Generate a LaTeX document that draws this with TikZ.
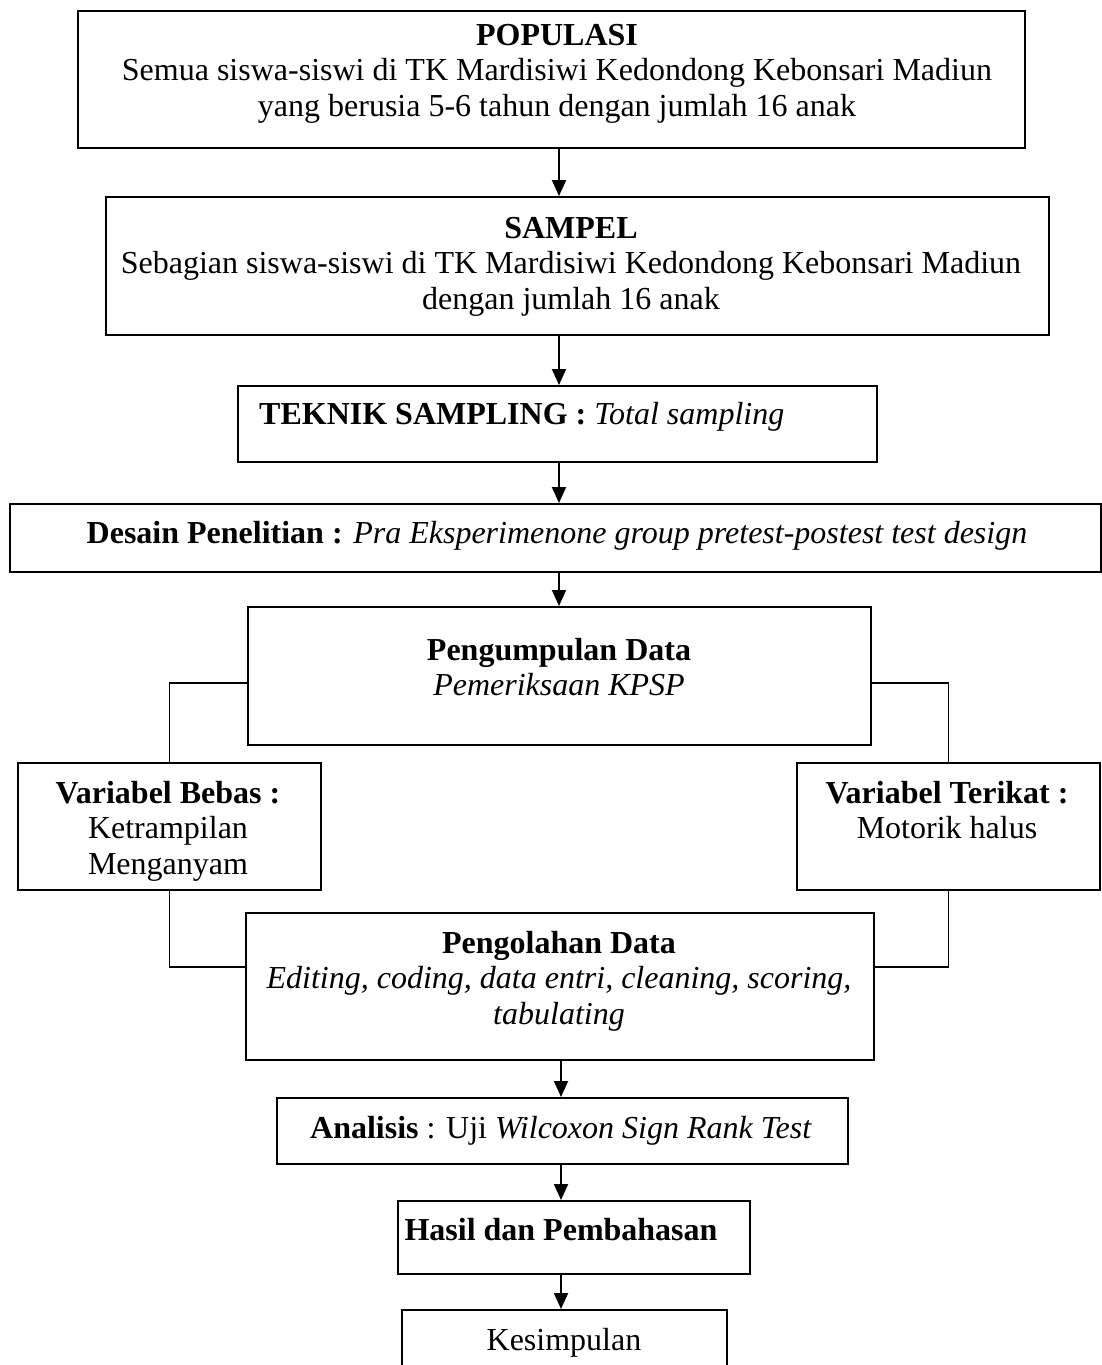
\documentclass[tikz,border=0pt]{standalone}
\usepackage{fontspec}
\setmainfont{Liberation Serif}
\usetikzlibrary{arrows.meta,calc}
\tikzset{
  box/.style={draw, line width=1.9pt, inner sep=0pt, anchor=north west, fill=white},
  txt/.style={anchor=north, inner sep=0pt, align=center, yshift=24.85pt,
              font=\fontsize{32}{35.5}\selectfont},
  conn/.style={line width=1.9pt},
  arr/.style={line width=1.9pt, -{Triangle[length=16pt,width=14pt]}}
}
\begin{document}
\begin{tikzpicture}[x=1pt,y=1pt]
\useasboundingbox (0,0) rectangle (1102,-1365);
\fill[white] (0,0) rectangle (1102,-1365);
\begin{scope}
\clip (0,0) rectangle (1102,-1365);
% boxes
\node[box, minimum width=947pt, minimum height=137pt] (pop) at (77,-10) {};
\node[box, minimum width=943pt, minimum height=138pt] (sam) at (105,-196) {};
\node[box, minimum width=639pt, minimum height=76pt] (tek) at (237,-385) {};
\node[box, minimum width=1091pt, minimum height=68pt] (des) at (9,-503) {};
\node[box, minimum width=623pt, minimum height=138pt] (pk) at (247,-606) {};
\node[box, minimum width=303pt, minimum height=127pt] (beb) at (17,-762) {};
\node[box, minimum width=303pt, minimum height=127pt] (ter) at (796,-762) {};
\node[box, minimum width=628pt, minimum height=147pt] (po) at (245,-912) {};
\node[box, minimum width=571pt, minimum height=66pt] (an) at (276,-1097) {};
\node[box, minimum width=352pt, minimum height=73pt] (ha) at (397,-1200) {};
\node[box, minimum width=325pt, minimum height=100pt] (ke) at (401,-1309) {};
% texts
\node[txt] (tpop) at (557,-45) {\strut\textbf{POPULASI}\\\strut Semua siswa-siswi di TK Mardisiwi Kedondong Kebonsari Madiun\\\strut yang berusia 5-6 tahun dengan jumlah 16 anak};
\node[txt] (tsam) at (571,-238) {\strut\textbf{SAMPEL}\\\strut Sebagian siswa-siswi di TK Mardisiwi Kedondong Kebonsari Madiun\\\strut dengan jumlah 16 anak};
\node[txt, anchor=north west] (ttek) at (259,-424) {\strut\textbf{TEKNIK SAMPLING :} \textit{Total sampling}};
\node[txt] (tdes) at (557,-543) {\strut\textbf{Desain Penelitian :} \textit{Pra Eksperimenone group pretest-postest test design}};
\node[txt] (tpk) at (559,-660) {\strut\textbf{Pengumpulan Data}\\\strut\textit{Pemeriksaan KPSP}};
\node[txt] (tbeb) at (168,-803) {\strut\textbf{Variabel Bebas :}\\\strut Ketrampilan\\\strut Menganyam};
\node[txt] (tter) at (947,-803) {\strut\textbf{Variabel Terikat :}\\\strut Motorik halus};
\node[txt] (tpo) at (559,-953) {\strut\textbf{Pengolahan Data}\\\strut\textit{Editing, coding, data entri, cleaning, scoring,}\\\strut\textit{tabulating}};
\node[txt] (tan) at (561,-1138) {\strut\textbf{Analisis} : Uji \textit{Wilcoxon Sign Rank Test}};
\node[txt] (tha) at (561,-1240) {\strut\textbf{Hasil dan Pembahasan}};
\node[txt] (tke) at (564,-1350) {\strut Kesimpulan};
% arrows
\coordinate (ax) at (559,0);
\coordinate (bx) at (561,0);
\draw[arr] (pop.south -| ax) -- (sam.north -| ax);
\draw[arr] (sam.south -| ax) -- (tek.north -| ax);
\draw[arr] (tek.south -| ax) -- (des.north -| ax);
\draw[arr] (des.south -| ax) -- (pk.north -| ax);
\draw[arr] (po.south -| bx) -- (an.north -| bx);
\draw[arr] (an.south -| bx) -- (ha.north -| bx);
\draw[arr] (ha.south -| bx) -- (ke.north -| bx);
% side connectors
\draw[conn] ($(pk.north west)!0.55!(pk.south west)$) -| (beb.north);
\draw[conn] ($(pk.north east)!0.55!(pk.south east)$) -| (ter.north);
\draw[conn] (beb.south) |- ($(po.north west)!0.367!(po.south west)$);
\draw[conn] (ter.south) |- ($(po.north east)!0.367!(po.south east)$);
\end{scope}
\end{tikzpicture}
\end{document}
